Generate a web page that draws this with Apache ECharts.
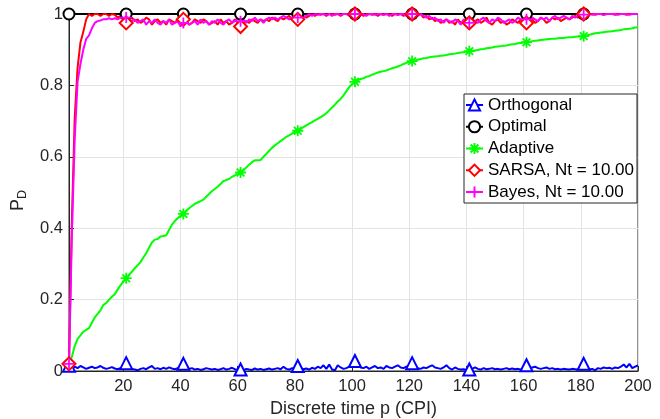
<!DOCTYPE html>
<html>
<head>
<meta charset="utf-8">
<script src="https://cdn.jsdelivr.net/npm/echarts@6/dist/echarts.min.js"></script>
<style>
html,body{margin:0;padding:0;background:#fff;}
#chart{width:660px;height:419px;}
</style>
</head>
<body>
<div id="chart"></div>
<script>
// ---- data ----
const xTicks = [20, 40, 60, 80, 100, 120, 140, 160, 180, 200];
const yTicks = [0, 0.2, 0.4, 0.6, 0.8, 1];
const markerSteps = [1, 21, 41, 61, 81, 101, 121, 141, 161, 181];
const seriesNames = ['Orthogonal', 'Optimal', 'Adaptive', 'SARSA, Nt = 10.00', 'Bayes, Nt = 10.00'];

const orthogonal = [
0.015,0.01,0.012,0.008,0.014,0.01,0.006,0.009,0.012,0.008,
0.01,0.014,0.009,0.006,0.008,0.011,0.007,0.005,0.008,0.01,
0.022,0.012,0.006,0.004,0.002,0.006,0.008,0.005,0.01,0.014,
0.006,0.008,0.005,0.009,0.006,0.01,0.007,0.005,0.008,0.012,
0.02,0.01,0.006,0.008,0.004,0.006,0.003,0.005,0.008,0.006,
0.004,0.006,0.003,0.005,0.008,0.004,0.006,0.009,0.005,0.003,
0.004,0.002,0.006,0.004,0.003,0.007,0.004,0.006,0.003,0.005,
0.007,0.004,0.006,0.008,0.005,0.012,0.006,0.004,0.008,0.007,
0.014,0.008,0.005,0.007,0.004,0.009,0.006,0.012,0.008,0.016,
0.006,0.018,0.004,0.002,0.016,0.01,0.006,0.008,0.012,0.018,
0.028,0.014,0.01,0.008,0.012,0.006,0.01,0.014,0.008,0.01,
0.006,0.014,0.01,0.008,0.012,0.016,0.01,0.008,0.012,0.014,
0.022,0.012,0.008,0.006,0.01,0.008,0.012,0.016,0.01,0.008,
0.006,0.01,0.016,0.008,0.004,0.01,0.006,0.004,0.005,0.003,
0.004,0.006,0.01,0.006,0.004,0.008,0.005,0.006,0.008,0.005,
0.006,0.004,0.006,0.008,0.005,0.007,0.005,0.006,0.004,0.008,
0.016,0.008,0.01,0.012,0.008,0.006,0.008,0.01,0.006,0.008,
0.005,0.006,0.004,0.006,0.005,0.004,0.006,0.005,0.004,0.006,
0.02,0.008,0.004,0.006,0.002,0.008,0.006,0.01,0.008,0.009,
0.006,0.01,0.008,0.012,0.018,0.01,0.02,0.008,0.012,0.016
];

const optimal = [
1,1,1,1,1,1,1,1,1,1, 1,1,1,1,1,1,1,1,1,1,
1,1,1,1,1,1,1,1,1,1, 1,1,1,1,1,1,1,1,1,1,
1,1,1,1,1,1,1,1,1,1, 1,1,1,1,1,1,1,1,1,1,
1,1,1,1,1,1,1,1,1,1, 1,1,1,1,1,1,1,1,1,1,
1,1,1,1,1,1,1,1,1,1, 1,1,1,1,1,1,1,1,1,1,
1,1,1,1,1,1,1,1,1,1, 1,1,1,1,1,1,1,1,1,1,
1,1,1,1,1,1,1,1,1,1, 1,1,1,1,1,1,1,1,1,1,
1,1,1,1,1,1,1,1,1,1, 1,1,1,1,1,1,1,1,1,1,
1,1,1,1,1,1,1,1,1,1, 1,1,1,1,1,1,1,1,1,1,
1,1,1,1,1,1,1,1,1,1, 1,1,1,1,1,1,1,1,1,1
];

const adaptive = [
0.02,0.04,0.07,0.09,0.10,0.11,0.115,0.12,0.135,0.15,
0.16,0.17,0.185,0.19,0.2,0.208,0.215,0.228,0.24,0.25,
0.26,0.27,0.278,0.288,0.296,0.305,0.318,0.33,0.345,0.36,
0.368,0.37,0.377,0.378,0.38,0.395,0.41,0.42,0.428,0.435,
0.44,0.448,0.456,0.462,0.468,0.472,0.476,0.48,0.488,0.496,
0.504,0.51,0.516,0.524,0.532,0.535,0.538,0.544,0.548,0.552,
0.556,0.562,0.57,0.578,0.585,0.59,0.59,0.591,0.6,0.608,
0.617,0.625,0.632,0.638,0.644,0.65,0.656,0.66,0.665,0.67,
0.673,0.678,0.683,0.688,0.693,0.697,0.702,0.706,0.711,0.716,
0.722,0.73,0.738,0.746,0.755,0.762,0.772,0.784,0.795,0.803,
0.81,0.814,0.818,0.82,0.824,0.826,0.83,0.833,0.836,0.838,
0.84,0.842,0.845,0.848,0.85,0.853,0.856,0.86,0.863,0.866,
0.868,0.87,0.872,0.874,0.876,0.877,0.879,0.88,0.881,0.882,
0.883,0.884,0.885,0.887,0.888,0.889,0.891,0.892,0.893,0.894,
0.896,0.897,0.898,0.899,0.901,0.902,0.904,0.905,0.906,0.908,
0.909,0.91,0.911,0.912,0.914,0.915,0.916,0.918,0.919,0.92,
0.921,0.922,0.924,0.925,0.926,0.927,0.928,0.929,0.93,0.931,
0.931,0.932,0.933,0.933,0.934,0.935,0.935,0.936,0.937,0.937,
0.938,0.94,0.942,0.944,0.946,0.947,0.948,0.949,0.95,0.951,
0.952,0.953,0.954,0.955,0.957,0.958,0.959,0.96,0.962,0.963
];

const sarsa = [
0.02,0.42,0.71,0.85,0.92,0.95,0.985,1.0,0.995,1.0,
1.0,0.995,1.0,1.0,0.995,1.0,0.998,0.99,0.995,0.99,
0.975,0.985,0.99,0.98,0.985,0.975,0.98,0.99,0.985,0.97,
0.98,0.985,0.975,0.98,0.97,0.985,0.98,0.975,0.985,0.98,
0.985,0.98,0.97,0.975,0.985,0.98,0.975,0.985,0.98,0.97,
0.975,0.98,0.97,0.985,0.975,0.98,0.97,0.975,0.985,0.975,
0.965,0.975,0.98,0.975,0.985,0.98,0.975,0.985,0.98,0.985,
0.98,0.99,0.985,0.98,0.99,0.985,0.99,0.995,0.985,0.99,
0.985,0.99,0.995,0.99,0.995,1.0,0.995,1.0,0.998,1.0,
0.995,1.0,1.0,0.998,1.0,0.995,1.0,1.0,0.998,1.0,
1.0,0.998,1.0,0.995,1.0,1.0,0.998,1.0,0.995,1.0,
0.998,1.0,1.0,0.995,1.0,0.998,1.0,0.995,1.0,1.0,
1.0,0.995,0.998,1.0,0.99,0.995,0.985,0.99,0.98,0.985,
0.975,0.98,0.985,0.975,0.98,0.97,0.985,0.975,0.98,0.985,
0.975,0.97,0.98,0.985,0.975,0.98,0.99,0.975,0.97,0.98,
0.985,0.975,0.98,0.97,0.975,0.985,0.98,0.975,0.985,0.98,
0.975,0.98,0.985,0.975,0.98,0.99,0.985,0.975,0.98,0.99,
0.985,0.99,0.98,0.985,0.99,0.985,0.99,0.995,0.99,0.995,
1.0,0.998,1.0,1.0,0.998,1.0,1.0,0.998,1.0,1.0,
1.0,0.998,1.0,1.0,1.0,0.998,1.0,1.0,1.0,1.0
];

const bayes = [
0.02,0.38,0.65,0.81,0.86,0.90,0.93,0.94,0.96,0.975,
0.98,0.982,0.985,0.985,0.988,0.985,0.988,0.985,0.99,0.985,
0.99,0.985,0.98,0.985,0.975,0.98,0.985,0.97,0.98,0.975,
0.985,0.975,0.97,0.98,0.975,0.985,0.97,0.975,0.98,0.965,
0.975,0.98,0.97,0.975,0.98,0.97,0.985,0.975,0.98,0.97,
0.98,0.975,0.985,0.975,0.97,0.98,0.985,0.975,0.98,0.99,
0.98,0.985,0.975,0.985,0.98,0.99,0.98,0.985,0.975,0.985,
0.99,0.985,0.99,0.985,0.99,0.995,0.99,0.985,0.99,0.995,
0.99,0.995,0.99,0.995,1.0,0.995,1.0,0.998,1.0,1.0,
0.998,1.0,0.995,1.0,1.0,0.998,1.0,1.0,0.995,1.0,
1.0,1.0,0.998,1.0,0.995,1.0,1.0,0.998,1.0,1.0,
0.998,1.0,0.995,1.0,1.0,0.998,1.0,1.0,0.995,1.0,
1.0,0.998,0.995,1.0,0.995,0.99,0.995,0.985,0.99,0.98,
0.985,0.975,0.985,0.98,0.975,0.985,0.98,0.97,0.985,0.98,
0.975,0.985,0.98,0.975,0.985,0.99,0.98,0.975,0.985,0.98,
0.99,0.985,0.975,0.98,0.985,0.975,0.98,0.99,0.985,0.98,
0.985,0.98,0.99,0.985,0.98,0.99,0.985,0.99,0.98,0.99,
0.995,0.985,0.99,0.995,0.99,0.985,0.995,0.99,0.995,0.99,
0.998,1.0,1.0,0.998,1.0,1.0,1.0,0.998,1.0,1.0,
1.0,1.0,0.998,1.0,1.0,1.0,0.998,1.0,1.0,1.0
];

// discrete time steps p = 1..200 (x positions of the samples)
const steps = [];
for (let p = 1; p <= 200; p++) steps.push(p);

// ---- chart ----
const FONT = '"Liberation Sans", Arial, Helvetica, sans-serif';
const TXT = '#262626';
const pairs = vals => vals.map((v, i) => [steps[i], v]);
const markerSize = s => (val, params) => markerSteps.indexOf(steps[params.dataIndex]) >= 0 ? s : 0;

const ASTERISK = 'path://M5 0L5 10M0 5L10 5M1.5 1.5L8.5 8.5M8.5 1.5L1.5 8.5';
const PLUS = 'path://M5 0L5 10M0 5L10 5';

function mkSeries(name, vals, color, symbol, size) {
  return {
    name: name,
    type: 'line',
    data: pairs(vals),
    color: color,
    symbol: symbol,
    symbolSize: markerSize(size),
    showSymbol: true,
    clip: false,
    lineStyle: { color: color, width: 2 },
    itemStyle: { color: color, borderColor: color, borderWidth: 1.8 },
    emphasis: { disabled: true },
    animation: false
  };
}

const chart = echarts.init(document.getElementById('chart'), null, { renderer: 'canvas' });
chart.setOption({
  animation: false,
  backgroundColor: '#fff',
  textStyle: { fontFamily: FONT, color: TXT },
  grid: {
    left: 69, right: 22, top: 14, bottom: 48,
    outerBoundsMode: 'none',
    containLabel: false,
    show: true, borderColor: '#262626', borderWidth: 1, backgroundColor: 'transparent'
  },
  legend: {
    left: 464, top: 94,
    orient: 'vertical',
    selectedMode: false,
    itemWidth: 17, itemHeight: 14, itemGap: 4.75,
    padding: [2.5, 3, 2.5, 1],
    backgroundColor: '#fff',
    borderColor: '#262626', borderWidth: 1, borderRadius: 0,
    textStyle: { fontFamily: FONT, fontSize: 17, color: '#000', lineHeight: 17 },
    data: seriesNames
  },
  xAxis: {
    type: 'value',
    min: 1, max: 200,
    name: 'Discrete time p (CPI)',
    nameLocation: 'middle',
    nameGap: 29,
    nameTextStyle: { fontFamily: FONT, fontSize: 18, color: TXT },
    axisLine: { show: true, lineStyle: { color: '#262626', width: 1 } },
    axisTick: { show: true, inside: true, length: 5, customValues: xTicks, lineStyle: { color: '#262626' } },
    axisLabel: { customValues: xTicks, margin: 7, fontFamily: FONT, fontSize: 16.5, color: TXT },
    splitLine: { show: true, lineStyle: { color: '#e3e3e3', width: 1 } }
  },
  yAxis: {
    type: 'value',
    min: 0, max: 1, interval: 0.2,
    name: '{p|P}{d|D}',
    nameLocation: 'middle',
    nameGap: 24,
    nameTextStyle: {
      padding: [0, 16, 0, 0],
      rich: {
        p: { fontFamily: FONT, fontSize: 18, color: TXT, lineHeight: 20, verticalAlign: 'top' },
        d: { fontFamily: FONT, fontSize: 12.5, color: TXT, lineHeight: 14, verticalAlign: 'bottom' }
      }
    },
    axisLine: { show: true, lineStyle: { color: '#262626', width: 1 } },
    axisTick: { show: true, inside: true, length: 5, lineStyle: { color: '#262626' } },
    axisLabel: {
      margin: 6, fontFamily: FONT, fontSize: 16.5, color: TXT,
      customValues: yTicks,
      formatter: v => String(Math.round(v * 10) / 10)
    },
    splitLine: { show: true, lineStyle: { color: '#e3e3e3', width: 1 } }
  },
  series: [
    mkSeries(seriesNames[0], orthogonal, '#0000ff', 'emptyTriangle', 12),
    mkSeries(seriesNames[1], optimal, '#000000', 'emptyCircle', 11),
    mkSeries(seriesNames[2], adaptive, '#00ff00', ASTERISK, 11),
    mkSeries(seriesNames[3], sarsa, '#ff0000', 'emptyDiamond', 13),
    mkSeries(seriesNames[4], bayes, '#ff00ff', PLUS, 11)
  ]
});
</script>
</body>
</html>
